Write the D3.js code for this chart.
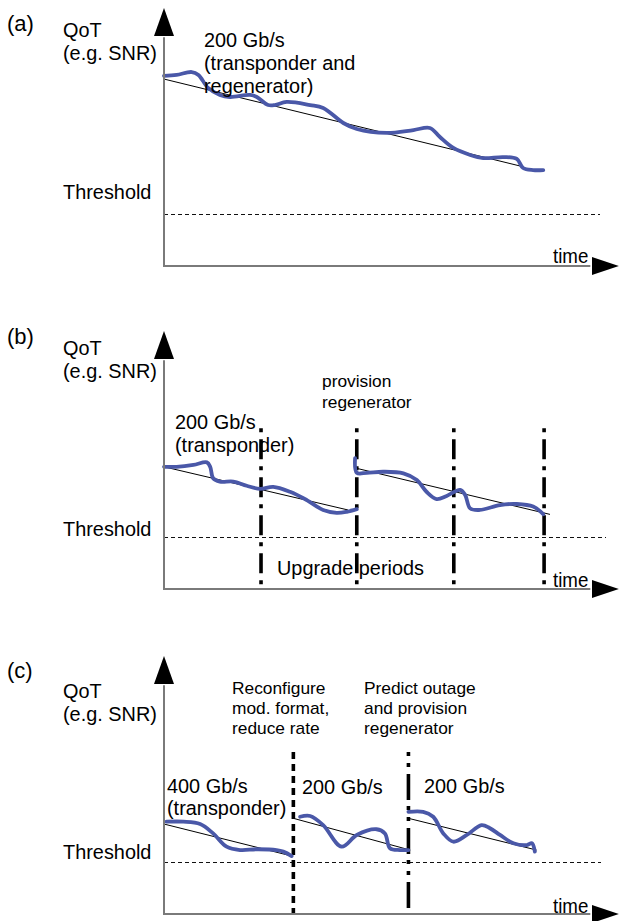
<!DOCTYPE html>
<html>
<head>
<meta charset="utf-8">
<script src="https://cdn.jsdelivr.net/npm/d3@7/dist/d3.min.js"></script>
<style>
  html, body { margin: 0; padding: 0; background: #fff; }
  svg { display: block; }
  text { font-family: "Liberation Sans", Arial, Helvetica, sans-serif; fill: #000; }
</style>
</head>
<body>
<svg id="chart" width="620" height="921"></svg>
<script>
// ---------------- DATA (time 0-100, QoT 0-100) ----------------
const thresholdQoT = 20;

// Panel (a)
const aQoT = [[0,73.1],[3.0,73.5],[6.6,74.6],[8.2,73.5],[10.5,68.5],[13.3,65.8],[15.7,65.0],[20.5,65.8],[22.1,65.0],[24.8,61.9],[26.4,61.9],[29.2,63.1],[34.8,61.9],[37.9,60.8],[42.7,55.0],[45.9,52.7],[53.0,51.2],[59.4,52.3],[63.3,53.1],[65.7,49.6],[68.9,45.4],[72.9,42.7],[76.0,41.5],[80.8,41.9],[84.0,41.2],[85.5,37.7],[87.9,36.9],[90.3,36.9]];
const aTrend = [[0,71.9],[85.7,38.1]];

// Panel (b)
const bQoT1 = [[0,47.0],[3.0,47.0],[7.0,47.7],[10.2,48.7],[11.0,47.0],[11.7,42.6],[13.3,41.3],[16.5,41.3],[19.7,39.7],[22.9,38.5],[26.0,39.3],[30.0,37.4],[34.0,34.2],[37.9,30.4],[41.1,29.3],[43.5,29.7],[45.9,30.7]];
const bQoT2 = [[45.5,50.3],[45.9,44.7],[48.3,44.7],[52.2,45.1],[57.0,44.5],[60.2,41.9],[62.5,37.4],[64.9,34.6],[67.3,35.8],[70.5,38.1],[71.7,36.2],[72.9,31.0],[75.2,30.4],[80.0,32.3],[84.0,32.7],[87.9,31.7],[90.3,28.8]];
const bTrend1 = [[0,47.0],[43.8,30.4]];
const bTrend2 = [[45.9,46.4],[91.9,28.7]];
const bUpgradeTimes = [23.1,45.9,69.0,90.5];

// Panel (c)
const cQoT1 = [[0.6,35.5],[4.6,35.5],[8.6,34.6],[11.7,31.0],[14.9,25.9],[18.1,24.6],[22.1,24.9],[26.8,24.6],[28.4,24.0],[30.4,22.3]];
const cQoT2 = [[32.4,37.4],[34.8,37.7],[37.9,34.2],[42.3,25.9],[45.9,30.4],[50.6,32.6],[52.6,31.0],[53.8,25.3],[56.2,24.6],[58.2,24.6]];
const cQoT3 = [[58.2,39.3],[61.7,39.3],[64.1,37.4],[66.5,31.0],[68.9,27.8],[72.1,30.4],[75.6,34.2],[77.6,33.0],[80.0,30.4],[83.2,27.2],[86.4,26.5],[87.6,27.2],[88.3,24.0]];
const cTrend1 = [[0,34.6],[30.4,22.3]];
const cTrend2 = [[30.8,36.8],[58.6,24.6]];
const cTrend3 = [[58.2,36.8],[88.7,24.6]];
const cReconfigTime = 30.8;
const cRegenTime = 58.2;

// ---------------- DRAWING ----------------
const svg = d3.select("#chart");
const BLUE = "#4a58a8";
const AXIS = "#7a7a7a";
const SX = 1.02;
const FS = 19.5;
const FS_SMALL = 17;

const x = d3.scaleLinear().domain([0, 100]).range([164, 584]);

function txt(g, s, px, py, size, sx) {
  g.append("text")
    .attr("transform", `translate(${px},${py}) scale(${sx || SX},1)`)
    .attr("font-size", size)
    .text(s);
}

function panel(axisY, opts) {
  const y = d3.scaleLinear().domain([0, 100]).range([axisY, axisY - 260]);
  const g = svg.append("g");
  const line = d3.line().x(d => x(d[0])).y(d => y(d[1]));
  const smooth = d3.line().x(d => x(d[0])).y(d => y(d[1])).curve(d3.curveCatmullRom.alpha(0.5));

  // threshold
  g.append("line")
    .attr("x1", x(0)).attr("x2", x(opts.thrEnd))
    .attr("y1", y(thresholdQoT) + 0.5).attr("y2", y(thresholdQoT) + 0.5)
    .attr("stroke", "#111").attr("stroke-width", 1).attr("stroke-dasharray", "4,3")
    .attr("shape-rendering", "crispEdges");

  // vertical event lines
  (opts.vlines || []).forEach(v => {
    g.append("line")
      .attr("x1", x(v.t)).attr("x2", x(v.t))
      .attr("y1", y(v.top)).attr("y2", axisY + 1)
      .attr("stroke", "#000").attr("stroke-width", 3.6)
      .attr("stroke-dasharray", v.dash);
  });

  // trend lines
  opts.trends.forEach(tr => {
    g.append("path").attr("d", line(tr))
      .attr("fill", "none").attr("stroke", "#000").attr("stroke-width", 1);
  });

  // QoT curves
  opts.curves.forEach(c => {
    g.append("path").attr("d", smooth(c))
      .attr("fill", "none").attr("stroke", BLUE).attr("stroke-width", 3.8)
      .attr("stroke-linecap", "round").attr("stroke-linejoin", "round");
  });

  // axes
  g.append("line").attr("x1", x(0)).attr("x2", x(0))
    .attr("y1", axisY + 1).attr("y2", y(88))
    .attr("stroke", AXIS).attr("stroke-width", 2);
  g.append("line").attr("x1", x(0) - 1).attr("x2", x(101.5))
    .attr("y1", axisY).attr("y2", axisY)
    .attr("stroke", AXIS).attr("stroke-width", 2);
  const yTip = axisY - 258, yBase = axisY - 230;
  g.append("path")
    .attr("d", `M${x(0)},${yTip} L${x(0) - 10},${yBase} L${x(0) + 10},${yBase} Z`)
    .attr("fill", "#000");
  const xTip = x(108.3), xBase = x(101.9);
  g.append("path")
    .attr("d", `M${xTip},${axisY} L${xBase},${axisY - 9} L${xBase},${axisY + 9} Z`)
    .attr("fill", "#000");

  // labels
  txt(g, opts.letter, 7, axisY + opts.letterDy, 22, 1.0);
  txt(g, "QoT", 63, axisY + opts.qotDy, FS);
  txt(g, "(e.g. SNR)", 63, axisY + opts.qotDy + 23, FS);
  txt(g, "Threshold", 63, axisY + opts.thrDy, FS);
  txt(g, "time", 553, axisY + opts.timeDy, FS, 0.96);
  (opts.labels || []).forEach(l => {
    l.lines.forEach((s, i) => txt(g, s, l.x, axisY + l.dy + i * l.lh, l.size));
  });
  return g;
}

panel(266, {
  letter: "(a)", letterDy: -235, qotDy: -229, thrDy: -67, timeDy: -3, thrEnd: 103.8,
  trends: [aTrend], curves: [aQoT],
  labels: [
    { x: 204, dy: -219, lh: 23, size: FS, lines: ["200 Gb/s", "(transponder and", "regenerator)"] }
  ]
});

panel(589, {
  letter: "(b)", letterDy: -245, qotDy: -234, thrDy: -53, timeDy: -2, thrEnd: 105.2,
  trends: [bTrend1, bTrend2], curves: [bQoT1, bQoT2],
  vlines: bUpgradeTimes.map(t => ({ t: t, top: 61.8, dash: "4,7,20,7" })),
  labels: [
    { x: 322, dy: -202, lh: 21, size: FS_SMALL, lines: ["provision", "regenerator"] },
    { x: 175, dy: -160, lh: 23, size: FS, lines: ["200 Gb/s", "(transponder)"] },
    { x: 277, dy: -14, lh: 23, size: FS, lines: ["Upgrade periods"] }
  ]
});

panel(914, {
  letter: "(c)", letterDy: -236, qotDy: -216, thrDy: -55, timeDy: -1, thrEnd: 104,
  trends: [cTrend1, cTrend2, cTrend3], curves: [cQoT1, cQoT2, cQoT3],
  vlines: [
    { t: cReconfigTime, top: 62.3, dash: "7,5" },
    { t: cRegenTime, top: 62.3, dash: "4,7,4,7,26,6" }
  ],
  labels: [
    { x: 232, dy: -220, lh: 20, size: FS_SMALL, lines: ["Reconfigure", "mod. format,", "reduce rate"] },
    { x: 364, dy: -220, lh: 20, size: FS_SMALL, lines: ["Predict outage", "and provision", "regenerator"] },
    { x: 167, dy: -121, lh: 22, size: FS, lines: ["400 Gb/s", "(transponder)"] },
    { x: 302, dy: -120, lh: 22, size: FS, lines: ["200 Gb/s"] },
    { x: 424, dy: -121, lh: 22, size: FS, lines: ["200 Gb/s"] }
  ]
});
</script>
</body>
</html>
